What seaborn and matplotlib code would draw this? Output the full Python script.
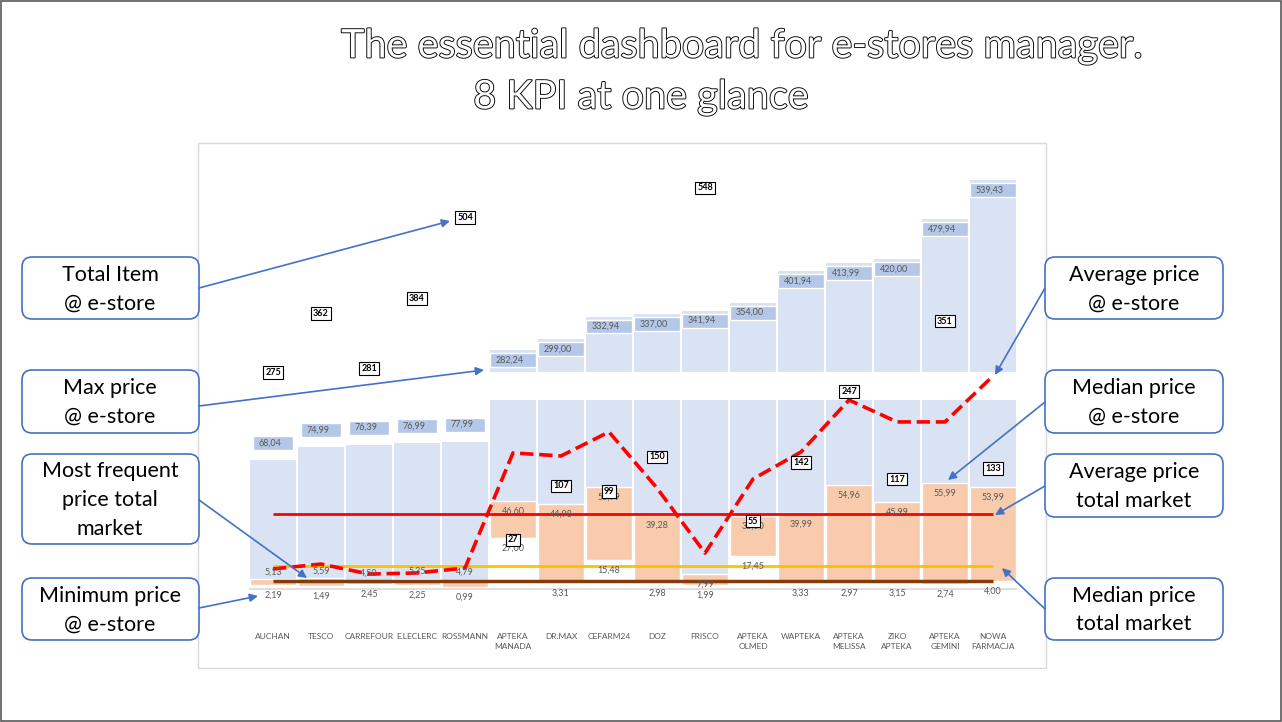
import numpy as np
import matplotlib
matplotlib.use("Agg")
import matplotlib.pyplot as plt
import matplotlib.patheffects as pe
from matplotlib.patches import FancyBboxPatch, Rectangle
import seaborn as sns

# ---- data ----
stores = ["AUCHAN", "TESCO", "CARREFOUR", "E.LECLERC", "ROSSMANN",
          "APTEKA\nMANADA", "DR.MAX", "CEFARM24", "DOZ", "FRISCO",
          "APTEKA\nOLMED", "WAPTEKA", "APTEKA\nMELISSA", "ZIKO\nAPTEKA",
          "APTEKA\nGEMINI", "NOWA\nFARMACJA"]
max_price = [68.04, 74.99, 76.39, 76.99, 77.99, 282.24, 299.00, 332.94,
             337.00, 341.94, 354.00, 401.94, 413.99, 420.00, 479.94, 539.43]
median_price = [5.13, 5.59, 4.50, 5.35, 4.79, 46.60, 44.98, 53.99,
                39.28, 7.99, 38.60, 39.99, 54.96, 45.99, 55.99, 53.99]
min_price = [2.19, 1.49, 2.45, 2.25, 0.99, 27.00, 3.31, 15.48,
             2.98, 1.99, 17.45, 3.33, 2.97, 3.15, 2.74, 4.00]
avg_price = [10.6, 13.2, 7.9, 8.5, 11.1, 72.0, 70.4, 83.1,
             53.4, 19.0, 58.2, 72.5, 100.0, 88.4, 88.4, 112.7]
total_items = [275, 362, 281, 384, 504, 27, 107, 99, 150, 548, 55, 142,
               247, 117, 351, 133]
market_avg = 39.70
market_median = 11.99
market_mode = 3.99

left_boxes = ["Total Item\n@ e-store", "Max price\n@ e-store",
              "Most frequent\nprice total\nmarket", "Minimum price\n@ e-store"]
right_boxes = ["Average price\n@ e-store", "Median price\n@ e-store",
               "Average price\ntotal market", "Median price\ntotal market"]

BLUE = "#dae3f3"
LBL_BLUE = "#b4c7e7"
ORANGE = "#f8cbad"
GREY_TXT = "#595959"
ARROW = "#4472c4"

sns.set_style("white")
plt.rcParams["font.family"] = ["Lato", "DejaVu Sans"]

W, H = 1282, 722
fig = plt.figure(figsize=(W / 100, H / 100), dpi=100)


def frac(x0, y0, x1, y1):
    return [x0 / W, 1 - y1 / H, (x1 - x0) / W, (y1 - y0) / H]


def fmt(v):
    return f"{v:.2f}".replace(".", ",")


x = np.arange(len(stores))
xlim = (-1.5625, 16.104)
mx = np.array(max_price)
med = np.array(median_price)
mn = np.array(min_price)

# upper panel (prices above the break)
ax_up = fig.add_axes(frac(198, 143, 1046, 372))
sns.barplot(x=stores, y=max_price, ax=ax_up, color=BLUE, saturation=1,
            width=0.95, linewidth=0)
ax_up.bar(x[5:], 21, bottom=mx[5:] - 25.7, width=0.95, color=LBL_BLUE)
for i in x[5:]:
    ax_up.text(i - 0.36, mx[i] - 15.2, fmt(mx[i]), ha="left", va="center",
               fontsize=6.5, color=GREY_TXT)
ax_up.set_xlim(xlim)
ax_up.set_ylim(249, 595.4)
ax_up.axis("off")

# lower panel (0 - 100)
ax_low = fig.add_axes(frac(198, 400, 1046, 589))
sns.barplot(x=stores, y=max_price, ax=ax_low, color=BLUE, saturation=1,
            width=0.95, linewidth=0)
ax_low.bar(x, mn, width=0.95, color="white")
ax_low.bar(x, med - mn, bottom=mn, width=0.95, color=ORANGE)
ax_low.bar(x[:5], 7.4, bottom=mx[:5] + 5.3, width=0.84, color=LBL_BLUE)
for i in x[:5]:
    ax_low.text(i - 0.3, mx[i] + 9.0, fmt(mx[i]), ha="left", va="center",
                fontsize=6.5, color=GREY_TXT)
for i in x:
    off = 4 if med[i] < 7 else -5.5
    ax_low.text(i, med[i] + off, fmt(med[i]), ha="center", va="center",
                fontsize=6.5, color=GREY_TXT)
    ax_low.text(i, mn[i] - 5.3, fmt(mn[i]), ha="center", va="center",
                fontsize=6.5, color=GREY_TXT, clip_on=False)

ax_low.hlines(0, -0.5, 15.5, color="#d9d9d9", lw=1.2, clip_on=False)
ax_low.hlines(market_avg, 0, 15, color="#ff0000", lw=2)
ax_low.hlines(market_median, 0, 15, color="#ffc000", lw=2)
ax_low.hlines(market_mode, 0, 15, color="#843c0c", lw=2.5)
sns.lineplot(x=x, y=avg_price, ax=ax_low, color="#ff0000", lw=2.6,
             linestyle="--", clip_on=False)

ax_low.set_xlim(xlim)
ax_low.set_ylim(0, 100)
ax_low.set_xticks(x)
ax_low.set_xticklabels(stores, fontsize=6, color=GREY_TXT, linespacing=1.5)
ax_low.tick_params(axis="x", length=0, pad=32)
ax_low.set_yticks([])
ax_low.set_xlabel("")
ax_low.set_ylabel("")
sns.despine(ax=ax_low, left=True, bottom=True)
ax_low.patch.set_alpha(0)

# item counts on their own scale across the whole chart
ax_ov = fig.add_axes(frac(198, 143, 1046, 589))
ax_ov.set_xlim(xlim)
ax_ov.set_ylim(-45.6, 614.6)
for i, c in zip(x, total_items):
    ax_ov.text(i, c, str(c), ha="center", va="center", fontsize=6.5,
               fontweight="bold", color="black",
               bbox=dict(boxstyle="square,pad=0.2", fc="white", ec="black", lw=0.8))
ax_ov.axis("off")

# callouts, arrows, title
ax_bg = fig.add_axes([0, 0, 1, 1])
ax_bg.set_xlim(0, W)
ax_bg.set_ylim(H, 0)
ax_bg.axis("off")
ax_bg.add_patch(Rectangle((0.5, 0.5), W - 1.5, H - 1.5, fill=False,
                          ec="#595959", lw=1.2))
ax_bg.add_patch(Rectangle((198, 143), 848, 525, fill=False, ec="#d9d9d9", lw=1))

box_y = [(257, 319), (370, 433), (454, 544), (578, 640)]
rbox_y = [(257, 319), (370, 433), (454, 517), (578, 640)]
for txt, (y0, y1) in zip(left_boxes, box_y):
    ax_bg.add_patch(FancyBboxPatch((22, y0), 177, y1 - y0,
                                   boxstyle="round,pad=0,rounding_size=10",
                                   fc="white", ec=ARROW, lw=1.2))
    ax_bg.text(110, (y0 + y1) / 2 + 1, txt, ha="center", va="center",
               fontsize=15.5, linespacing=1.55, color="black")
for txt, (y0, y1) in zip(right_boxes, rbox_y):
    ax_bg.add_patch(FancyBboxPatch((1045, y0), 178, y1 - y0,
                                   boxstyle="round,pad=0,rounding_size=10",
                                   fc="white", ec=ARROW, lw=1.2))
    ax_bg.text(1134, (y0 + y1) / 2 + 1, txt, ha="center", va="center",
               fontsize=15.5, linespacing=1.55, color="black")

arrows = [((199, 288), (450, 221)), ((199, 406), (484, 370)),
          ((199, 500), (307, 578)), ((199, 608), (258, 596)),
          ((1045, 288), (995, 375)), ((1045, 402), (948, 480)),
          ((1045, 486), (995, 515)), ((1045, 609), (1002, 568))]
for start, tip in arrows:
    ax_bg.annotate("", xy=tip, xytext=start,
                   arrowprops=dict(arrowstyle="-|>", color=ARROW, lw=1.2,
                                   shrinkA=0, shrinkB=0, mutation_scale=12))

outline = [pe.withStroke(linewidth=1.3, foreground="black")]
ax_bg.text(742, 46, "The essential dashboard for e-stores manager.",
           ha="center", va="center", fontsize=28.5, color="white",
           path_effects=outline)
ax_bg.text(641, 97, "8 KPI at one glance", ha="center", va="center",
           fontsize=28.5, color="white", path_effects=outline)

fig.savefig("out.png", dpi=100, facecolor="white")
